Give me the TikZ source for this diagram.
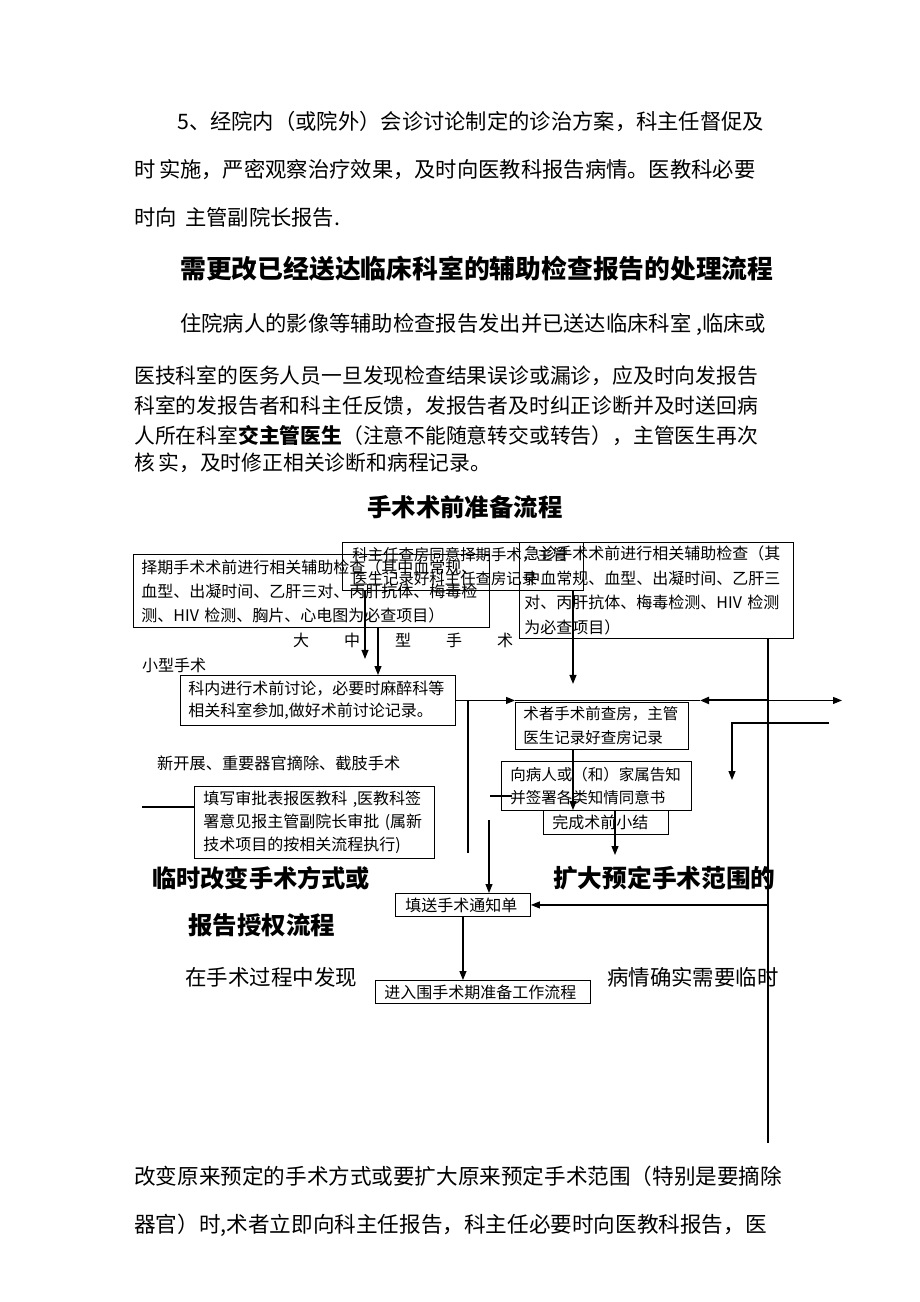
\documentclass[tikz,border=0pt]{standalone}
\usepackage{fontspec}
\setmainfont{Noto Sans CJK SC}
\usetikzlibrary{arrows.meta,positioning}

\newcommand\fs[2]{\fontsize{#1pt}{#2pt}\selectfont}

\tikzset{
  box/.style={draw, line width=0.9pt, anchor=north west, align=left, inner ysep=0pt},
  line/.style={line width=1.1pt},
  arr/.style={line width=1.1pt, -{Triangle[length=9pt,width=7pt]}},
  txt/.style={anchor=west, inner sep=0pt},
}

\begin{document}
\begin{tikzpicture}[x=1pt,y=-1pt]
\useasboundingbox (0,0) rectangle (920,1302);
\fill[white] (0,0) rectangle (920,1302);

% text above the chart
\node[txt,font=\fs{21.3}{21.3}] (p1a) at (177,122) {5、经院内（或院外）会诊讨论制定的诊治方案，科主任督促及};
\node[txt,font=\fs{21.3}{21.3}] (p1b) at (134,170) {时\,实施，严密观察治疗效果，及时向医教科报告病情。医教科必要};
\node[txt,font=\fs{21.3}{21.3}] (p1c) at (134,217) {时向\, 主管副院长报告.};
\node[txt,font=\fs{25.8}{25.8}\bfseries] (h1) at (180,269) {需更改已经送达临床科室的辅助检查报告的处理流程};
\node[txt,font=\fs{21.3}{21.3}] (p2a) at (180,324) {住院病人的影像等辅助检查报告发出并已送达临床科室 ,临床或};
\node[txt,font=\fs{20.8}{20.8}] (p2b) at (134,376) {医技科室的医务人员一旦发现检查结果误诊或漏诊，应及时向发报告};
\node[txt,font=\fs{20.8}{20.8}] (p2c) at (134,406) {科室的发报告者和科主任反馈，发报告者及时纠正诊断并及时送回病};
\node[txt,font=\fs{20.8}{20.8}] (p2d) at (134,436) {人所在科室{\bfseries 交主管医生}（注意不能随意转交或转告），主管医生再次};
\node[txt,font=\fs{20.8}{20.8}] (p2e) at (134,463) {核\,实，及时修正相关诊断和病程记录。};
\node[txt,font=\fs{24.4}{24.4}\bfseries] (h2) at (367,507) {手术术前准备流程};

% boxes
\node[box, inner xsep=8pt, text width=340pt, minimum height=73pt, font=\fs{16}{24}] (pre) at (133,554)
  {择期手术术前进行相关辅助检查（其中血常规、\\血型、出凝时间、乙肝三对、丙肝抗体、梅毒检\\测、HIV 检测、胸片、心电图为必查项目）};
\node[box, inner xsep=10pt, text width=221pt, minimum height=48pt, font=\fs{15.4}{24}] (ward) at (342,542)
  {科主任查房同意择期手术，主管\\医生记录好科主任查房记录};
\node[box, inner xsep=5pt, text width=264pt, minimum height=96pt, font=\fs{16}{24.5}] (urg) at (519,542)
  {急诊手术术前进行相关辅助检查（其\\中血常规、血型、出凝时间、乙肝三\\对、丙肝抗体、梅毒检测、HIV 检测\\为必查项目）};
\node[box, inner xsep=8pt, text width=259pt, minimum height=50pt, font=\fs{16}{22}] (disc) at (180,675)
  {科内进行术前讨论，必要时麻醉科等\\相关科室参加,做好术前讨论记录。};
\node[box, inner xsep=8pt, text width=157pt, minimum height=47pt, font=\fs{15.5}{24}] (rnd) at (515,702)
  {术者手术前查房，主管\\医生记录好查房记录};
\node[box, inner xsep=9pt, text width=172pt, minimum height=49pt, font=\fs{15.5}{23}] (inform) at (501,761)
  {向病人或（和）家属告知\\并签署各类知情同意书};
\node[box, inner xsep=9pt, text width=107pt, minimum height=24pt, font=\fs{16}{16}] (sum) at (543,810)
  {完成术前小结};
\node[box, inner xsep=9pt, text width=222pt, minimum height=72pt, font=\fs{16}{23}] (appr) at (194,786)
  {填写审批表报医教科 ,医教科签\\署意见报主管副院长审批 (属新\\技术项目的按相关流程执行)};
\node[box, inner xsep=10pt, text width=115pt, minimum height=23pt, font=\fs{16}{16}] (notice) at (395,893)
  {填送手术通知单};
\node[box, inner xsep=9pt, text width=197pt, minimum height=23pt, font=\fs{16}{16}] (enter) at (375,980)
  {进入围手术期准备工作流程};

% labels
\node[txt,font=\fs{16}{16}] (big) at (293,640) {大\hspace{35pt}中\hspace{35pt}型\hspace{35pt}手\hspace{35pt}术};
\node[txt,font=\fs{16}{16}] (small) at (142,665) {小型手术};
\node[txt,font=\fs{16.2}{16.2}] (new) at (157,763) {新开展、重要器官摘除、截肢手术};

% connectors
\coordinate (rv) at (768,638);
\coordinate (el) at (829,723);
\coordinate (fr) at (490,796);
\coordinate (lf) at (489,820);
\coordinate (vl) at (468,700);
\coordinate (hl) at (142,807);

\draw[arr] ([xshift=23pt]ward.south west) -- ++(0,68);
\draw[arr] ([xshift=245pt]pre.south west) -- ([xshift=198pt]disc.north west);
\draw[arr] ([xshift=231pt]ward.south west) -- ++(0,93);
\draw[arr] (disc.east) -- (disc.east -| rnd.west);
\draw[line] (disc.east -| rnd.west) -- ++(185,0);
\draw[arr, line width=2pt] (rv |- disc.east) -- ++(-68,0);
\draw[arr] (rv |- disc.east) -- ++(74,0);
\draw[line] (rv) -- ++(0,505);
\draw[arr] (el) -| ++(-97,57);
\draw[arr] ([xshift=58pt]rnd.south west) -- ([xshift=30pt]sum.north west);
\draw[arr] ([xshift=72pt]sum.north west) -- ++(0,45);
\draw[line] (fr) -- ++(22,0);
\draw[arr] (lf) -- (lf |- notice.north);
\draw[line] (vl) -- ++(0,153);
\draw[line] (hl) -- (hl -| appr.west);
\draw[arr] (rv |- notice.east) -- (notice.east);
\draw[arr] (notice.south) -- (notice.south |- enter.north);

% text below the chart
\node[txt,font=\fs{24.2}{24.2}\bfseries] (h3a) at (152,878) {临时改变手术方式或};
\node[txt,font=\fs{24.7}{24.7}\bfseries] (h3b) at (553,878) {扩大预定手术范围的};
\node[txt,font=\fs{24.5}{24.5}\bfseries] (h3c) at (188,925) {报告授权流程};
\node[txt,font=\fs{21.5}{21.5}] (p3a) at (185,977) {在手术过程中发现};
\node[txt,font=\fs{21.4}{21.4}] (p3b) at (607,977) {病情确实需要临时};
\node[txt,font=\fs{21.6}{21.6}] (p3c) at (134,1176) {改变原来预定的手术方式或要扩大原来预定手术范围（特别是要摘除};
\node[txt,font=\fs{21.6}{21.6}] (p3d) at (134,1225) {器官）时,术者立即向科主任报告，科主任必要时向医教科报告，医};
\end{tikzpicture}
\end{document}
